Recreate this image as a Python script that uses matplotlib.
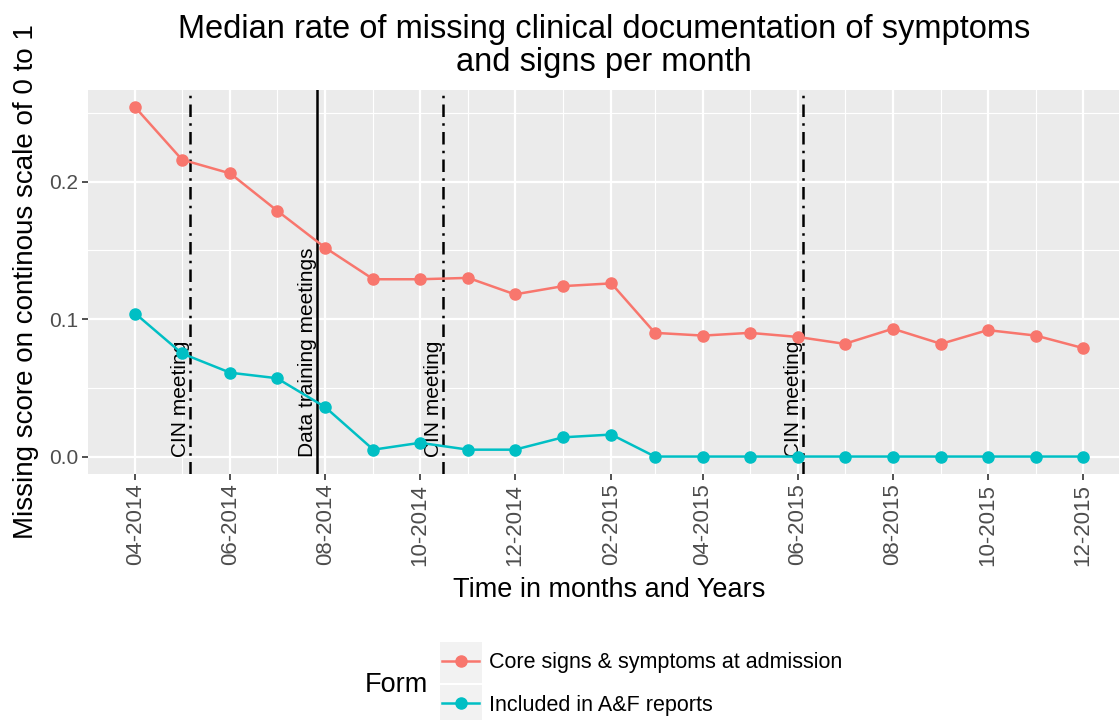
import matplotlib
matplotlib.use("Agg")
import matplotlib.pyplot as plt
import matplotlib.dates as mdates
from matplotlib.lines import Line2D
from matplotlib.patches import Rectangle
import numpy as np
import pandas as pd

plt.rcParams['font.family'] = ['Liberation Sans', 'DejaVu Sans']

# data
months = pd.date_range("2014-04-01", "2015-12-01", freq="MS")
core = [0.254, 0.216, 0.206, 0.179, 0.152, 0.129, 0.129, 0.130, 0.118, 0.124, 0.126,
        0.090, 0.088, 0.090, 0.087, 0.082, 0.093, 0.082, 0.092, 0.088, 0.079]
af = [0.104, 0.075, 0.061, 0.057, 0.036, 0.005, 0.010, 0.005, 0.005, 0.014, 0.016,
      0.0, 0.0, 0.0, 0.0, 0.0, 0.0, 0.0, 0.0, 0.0, 0.0]
series_names = ["Core signs & symptoms at admission", "Included in A&F reports"]
series_colors = ["#F8766D", "#00BFC4"]

events = pd.to_datetime(["2014-05-06", "2014-07-27", "2014-10-16", "2015-06-04"])
event_labels = ["CIN meeting", "Data training meetings", "CIN meeting", "CIN meeting"]
dotdash = (0, (5, 2.5, 1, 2.5))
event_styles = [dotdash, "-", dotdash, dotdash]

fig = plt.figure(figsize=(11.19, 7.2), dpi=100)
ax = fig.add_axes([88 / 1119, 1 - 474 / 720, (1130 - 88) / 1119, (474 - 90) / 720])
ax.set_facecolor("#EBEBEB")

x = mdates.date2num(months)
span = x[-1] - x[0]
ax.set_xlim(x[0] - 0.05 * span, x[-1] + 0.05 * span)
ymax = max(core)
ax.set_ylim(-0.05 * ymax, ymax * 1.05)

# grid
ax.set_xticks(mdates.date2num(months[::2]))
ax.set_xticks(mdates.date2num(months[1::2]), minor=True)
ax.set_yticks([0.0, 0.1, 0.2])
ax.set_yticks([0.05, 0.15, 0.25], minor=True)
ax.grid(which="major", color="white", lw=1.6)
ax.grid(which="minor", color="white", lw=0.8)
ax.set_axisbelow(True)
for s in ax.spines.values():
    s.set_visible(False)

ax.set_xticklabels([m.strftime("%m-%Y") for m in months[::2]], rotation=90,
                   fontsize=16, color="#4D4D4D")
ax.set_yticklabels(["0.0", "0.1", "0.2"], fontsize=15, color="#4D4D4D")
ax.tick_params(which="major", length=4, width=1.2, color="#333333", pad=3)
ax.tick_params(which="minor", length=0)

# event lines
for d, lab, ls in zip(events, event_labels, event_styles):
    xd = mdates.date2num(d)
    ax.axvline(xd, color="black", lw=1.8, ls=ls, zorder=2)
    ax.text(xd, 0.0, lab, rotation=90, ha="right", va="bottom", fontsize=15, zorder=3)

for vals, name, col in zip([core, af], series_names, series_colors):
    ax.plot(x, vals, color=col, lw=1.8, marker="o", ms=8, label=name, zorder=4)

ax.set_xlabel("Time in months and Years", fontsize=19.5, labelpad=8)
ax.set_ylabel("Missing score on continous scale of 0 to 1", fontsize=20)
ax.yaxis.set_label_coords((39 - 88) / 1042, 0.5)

fig.text(604 / 1119, 1 - 46 / 720,
         "Median rate of missing clinical documentation of symptoms\nand signs per month",
         ha="center", va="center", fontsize=23.5, linespacing=1.1)

# legend at bottom
for i, col in enumerate(series_colors):
    fig.patches.append(Rectangle((440 / 1119, 1 - (683 + 43 * i) / 720), 42 / 1119, 41 / 720,
                                 transform=fig.transFigure, facecolor="#F2F2F2",
                                 edgecolor="none", zorder=0))
handles = [Line2D([], [], color=c, lw=1.8, marker="o", ms=8) for c in series_colors]
fig.legend(handles, series_names, loc="center left", bbox_to_anchor=(423 / 1119, 1 - 684 / 720),
           frameon=False, fontsize=15.5, handlelength=1.7, labelspacing=1.0,
           handletextpad=0.45)
fig.text(428 / 1119, 1 - 685 / 720, "Form", ha="right", va="center", fontsize=19.5)

fig.savefig("out.png", dpi=100)
